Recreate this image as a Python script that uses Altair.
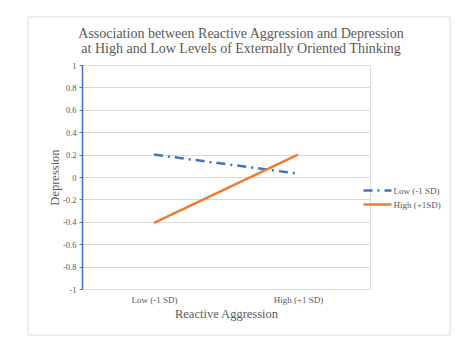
import altair as alt
import pandas as pd

categories = ["Low (-1 SD)", "High (+1 SD)"]
series_names = ["Low (-1 SD)", "High (+1SD)"]
low_values = [0.2, 0.03]
high_values = [-0.41, 0.2]
y_ticks = [-1, -0.8, -0.6, -0.4, -0.2, 0, 0.2, 0.4, 0.6, 0.8, 1]

rows = []
for s, vals in zip(series_names, [low_values, high_values]):
    for c, v in zip(categories, vals):
        rows.append({"series": s, "cat": c, "value": v})
df = pd.DataFrame(rows)

FONT = "Liberation Serif"
GRAY = "#595959"

base = alt.Chart(df)

lines = base.mark_line(strokeCap="butt").encode(
    x=alt.X("cat:N", sort=categories,
            scale=alt.Scale(type="point", padding=0.5),
            axis=alt.Axis(title="Reactive Aggression", labelAngle=0, domain=False,
                          ticks=False, labelFont=FONT, labelFontSize=9, labelColor=GRAY,
                          titleFont=FONT, titleFontSize=12.5, titleFontWeight="normal",
                          titleColor=GRAY, labelPadding=6, titlePadding=3)),
    y=alt.Y("value:Q", scale=alt.Scale(domain=[-1, 1], nice=False),
            axis=alt.Axis(title="Depression", values=y_ticks,
                          labelExpr="'' + datum.value",
                          grid=True, gridColor="#D9D9D9", gridWidth=1,
                          domainColor="#4472C4", domainWidth=1.5,
                          tickColor="#4472C4", tickSize=3, tickWidth=1,
                          labelFont=FONT, labelFontSize=8.5, labelColor=GRAY,
                          labelPadding=3,
                          titleFont=FONT, titleFontSize=12.5, titleFontWeight="normal",
                          titleColor=GRAY, titlePadding=1)),
    color=alt.Color("series:N", sort=series_names,
                    scale=alt.Scale(domain=series_names, range=["#4472C4", "#ED7D31"]),
                    legend=alt.Legend(title=None, orient="none", legendX=287, legendY=117,
                                      symbolType="M-2,0L2,0", symbolSize=196,
                                      symbolStrokeWidth=2.5,
                                      labelFont=FONT, labelFontSize=9, labelColor=GRAY,
                                      rowPadding=-1, padding=0, labelOffset=7.5)),
    strokeDash=alt.StrokeDash("series:N", sort=series_names,
                              scale=alt.Scale(domain=series_names,
                                              range=[[9, 5, 2, 5], [1, 0]]),
                              legend=None),
    strokeWidth=alt.value(2.5),
)

frame = alt.Chart(alt.Data(values=[{"a": 1}])).mark_rect(
    fill=None, stroke="#D9D9D9", strokeWidth=1
).encode(x=alt.value(-54), x2=alt.value(368), y=alt.value(-48), y2=alt.value(270))

chart = alt.layer(frame, lines).properties(
    width=288, height=224,
    autosize=alt.AutoSizeParams(type="none"),
    padding={"left": 82, "top": 65, "right": 104, "bottom": 67},
    title=alt.TitleParams(
        text=["Association between Reactive Aggression and Depression",
              "at High and Low Levels of Externally Oriented Thinking"],
        font=FONT, fontSize=14, fontWeight="normal", color=GRAY,
        anchor="middle", frame="group", dx=15, offset=-39, lineHeight=15),
).configure_view(stroke=None).configure(background="white")

chart.save("out.html", embed_options={"renderer": "svg", "actions": False})
